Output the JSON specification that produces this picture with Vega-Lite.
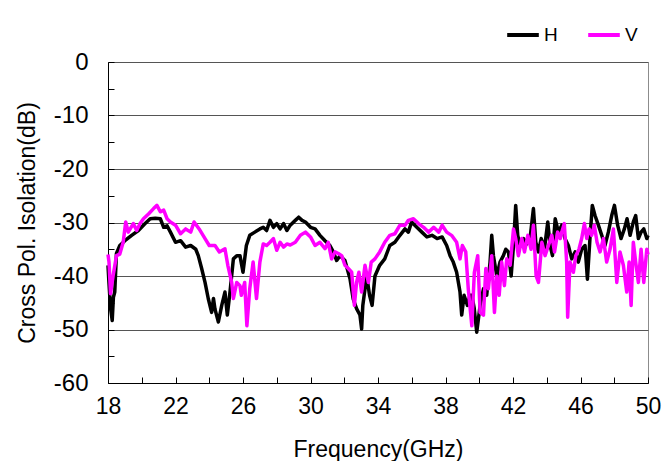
{
  "$schema": "https://vega.github.io/schema/vega-lite/v6.json",
  "width": 540,
  "height": 321,
  "autosize": "none",
  "padding": {"left": 108, "top": 62, "right": 14, "bottom": 78},
  "background": "white",
  "config": {
    "font": "Liberation Sans",
    "view": {"stroke": "#8c8c8c", "strokeWidth": 1},
    "axis": {"labelFont": "Liberation Sans", "titleFont": "Liberation Sans", "labelColor": "#000", "titleColor": "#000", "titleFontWeight": "normal"}
  },
  "datasets": {
    "curves": [
      {"f":18.0,"s":"H","db":-38},{"f":18.06,"s":"H","db":-41.4},{"f":18.15,"s":"H","db":-46},{"f":18.25,"s":"H","db":-48.3},{"f":18.32,"s":"H","db":-44},{"f":18.4,"s":"H","db":-43},{"f":18.5,"s":"H","db":-35.8},{"f":18.7,"s":"H","db":-34.3},{"f":19.0,"s":"H","db":-33.4},{"f":19.4,"s":"H","db":-32.4},{"f":19.8,"s":"H","db":-31.5},{"f":20.2,"s":"H","db":-30.2},{"f":20.5,"s":"H","db":-29.3},{"f":20.8,"s":"H","db":-29.2},{"f":21.1,"s":"H","db":-29.3},{"f":21.3,"s":"H","db":-30.9},{"f":21.5,"s":"H","db":-30.6},{"f":21.7,"s":"H","db":-31.8},{"f":22.0,"s":"H","db":-33.7},{"f":22.3,"s":"H","db":-33.4},{"f":22.6,"s":"H","db":-34.6},{"f":22.9,"s":"H","db":-34.3},{"f":23.2,"s":"H","db":-35},{"f":23.35,"s":"H","db":-36.2},{"f":23.55,"s":"H","db":-38.6},{"f":23.75,"s":"H","db":-41.2},{"f":23.94,"s":"H","db":-44.2},{"f":24.14,"s":"H","db":-46.8},{"f":24.25,"s":"H","db":-44.2},{"f":24.34,"s":"H","db":-46.2},{"f":24.54,"s":"H","db":-48.6},{"f":24.74,"s":"H","db":-45.5},{"f":24.93,"s":"H","db":-43},{"f":25.07,"s":"H","db":-47.3},{"f":25.23,"s":"H","db":-43},{"f":25.43,"s":"H","db":-36.8},{"f":25.63,"s":"H","db":-36.2},{"f":25.82,"s":"H","db":-36.2},{"f":26.0,"s":"H","db":-39.3},{"f":26.2,"s":"H","db":-34.3},{"f":26.4,"s":"H","db":-32.4},{"f":26.7,"s":"H","db":-31.8},{"f":27.0,"s":"H","db":-31.2},{"f":27.2,"s":"H","db":-30.9},{"f":27.4,"s":"H","db":-31.5},{"f":27.6,"s":"H","db":-29.6},{"f":27.8,"s":"H","db":-30.9},{"f":28.0,"s":"H","db":-30.2},{"f":28.2,"s":"H","db":-31.2},{"f":28.4,"s":"H","db":-30.2},{"f":28.6,"s":"H","db":-31.5},{"f":28.8,"s":"H","db":-30.5},{"f":29.1,"s":"H","db":-29.6},{"f":29.3,"s":"H","db":-29},{"f":29.5,"s":"H","db":-29.6},{"f":29.7,"s":"H","db":-29.9},{"f":30.0,"s":"H","db":-30.9},{"f":30.27,"s":"H","db":-31.2},{"f":30.56,"s":"H","db":-32.4},{"f":30.86,"s":"H","db":-33.4},{"f":31.15,"s":"H","db":-34.3},{"f":31.35,"s":"H","db":-35.5},{"f":31.55,"s":"H","db":-37.1},{"f":31.75,"s":"H","db":-36.2},{"f":32.04,"s":"H","db":-37.1},{"f":32.34,"s":"H","db":-40.5},{"f":32.53,"s":"H","db":-44.3},{"f":32.73,"s":"H","db":-46.1},{"f":32.93,"s":"H","db":-47.3},{"f":33.03,"s":"H","db":-49.9},{"f":33.1,"s":"H","db":-45.5},{"f":33.33,"s":"H","db":-40},{"f":33.5,"s":"H","db":-43.6},{"f":33.65,"s":"H","db":-45.5},{"f":33.82,"s":"H","db":-40},{"f":34.1,"s":"H","db":-38},{"f":34.4,"s":"H","db":-36.8},{"f":34.7,"s":"H","db":-34.3},{"f":35.0,"s":"H","db":-33.7},{"f":35.3,"s":"H","db":-32.4},{"f":35.6,"s":"H","db":-31.2},{"f":35.8,"s":"H","db":-31.8},{"f":35.99,"s":"H","db":-29.9},{"f":36.3,"s":"H","db":-30.9},{"f":36.6,"s":"H","db":-31.8},{"f":36.9,"s":"H","db":-32.7},{"f":37.2,"s":"H","db":-32.4},{"f":37.5,"s":"H","db":-33},{"f":37.8,"s":"H","db":-32.7},{"f":38.07,"s":"H","db":-34.3},{"f":38.27,"s":"H","db":-36.2},{"f":38.46,"s":"H","db":-37.4},{"f":38.66,"s":"H","db":-39.3},{"f":38.86,"s":"H","db":-43},{"f":38.96,"s":"H","db":-47.3},{"f":39.1,"s":"H","db":-43.6},{"f":39.3,"s":"H","db":-45.5},{"f":39.45,"s":"H","db":-43.6},{"f":39.56,"s":"H","db":-43.6},{"f":39.7,"s":"H","db":-46},{"f":39.85,"s":"H","db":-50.5},{"f":40.05,"s":"H","db":-45.5},{"f":40.25,"s":"H","db":-42.4},{"f":40.44,"s":"H","db":-43.6},{"f":40.64,"s":"H","db":-37.4},{"f":40.74,"s":"H","db":-32.4},{"f":40.84,"s":"H","db":-36.2},{"f":41.04,"s":"H","db":-40},{"f":41.23,"s":"H","db":-37.4},{"f":41.43,"s":"H","db":-36.2},{"f":41.57,"s":"H","db":-35},{"f":41.73,"s":"H","db":-35.5},{"f":41.89,"s":"H","db":-40},{"f":42.03,"s":"H","db":-34.3},{"f":42.16,"s":"H","db":-26.8},{"f":42.28,"s":"H","db":-32.4},{"f":42.42,"s":"H","db":-34.3},{"f":42.62,"s":"H","db":-33},{"f":42.82,"s":"H","db":-34},{"f":43.01,"s":"H","db":-33},{"f":43.21,"s":"H","db":-27.4},{"f":43.35,"s":"H","db":-33.7},{"f":43.51,"s":"H","db":-35.5},{"f":43.67,"s":"H","db":-33},{"f":43.86,"s":"H","db":-35},{"f":44.06,"s":"H","db":-29.9},{"f":44.2,"s":"H","db":-34.3},{"f":44.34,"s":"H","db":-36.2},{"f":44.5,"s":"H","db":-29.3},{"f":44.69,"s":"H","db":-31.8},{"f":44.89,"s":"H","db":-30.5},{"f":45.08,"s":"H","db":-33},{"f":45.28,"s":"H","db":-34.3},{"f":45.48,"s":"H","db":-36.8},{"f":45.68,"s":"H","db":-35.5},{"f":45.87,"s":"H","db":-37.4},{"f":46.07,"s":"H","db":-35},{"f":46.27,"s":"H","db":-34.3},{"f":46.41,"s":"H","db":-40.6},{"f":46.56,"s":"H","db":-33},{"f":46.7,"s":"H","db":-26.8},{"f":46.86,"s":"H","db":-28.7},{"f":47.06,"s":"H","db":-30.5},{"f":47.26,"s":"H","db":-32.4},{"f":47.45,"s":"H","db":-34.3},{"f":47.65,"s":"H","db":-31.8},{"f":47.85,"s":"H","db":-28.7},{"f":48.01,"s":"H","db":-26.8},{"f":48.2,"s":"H","db":-30.5},{"f":48.4,"s":"H","db":-33},{"f":48.6,"s":"H","db":-31.2},{"f":48.76,"s":"H","db":-29.3},{"f":48.94,"s":"H","db":-32.4},{"f":49.13,"s":"H","db":-29.9},{"f":49.27,"s":"H","db":-28.7},{"f":49.43,"s":"H","db":-33},{"f":49.59,"s":"H","db":-31.8},{"f":49.75,"s":"H","db":-31.2},{"f":49.93,"s":"H","db":-33},{"f":50.0,"s":"H","db":-32.4},
      {"f":18.0,"s":"V","db":-36},{"f":18.06,"s":"V","db":-37.4},{"f":18.15,"s":"V","db":-43.3},{"f":18.3,"s":"V","db":-40},{"f":18.5,"s":"V","db":-36.2},{"f":18.7,"s":"V","db":-35.9},{"f":18.9,"s":"V","db":-33.7},{"f":19.05,"s":"V","db":-29.9},{"f":19.2,"s":"V","db":-31.8},{"f":19.5,"s":"V","db":-30.2},{"f":19.7,"s":"V","db":-31.5},{"f":19.9,"s":"V","db":-30.2},{"f":20.1,"s":"V","db":-29.3},{"f":20.4,"s":"V","db":-28.4},{"f":20.7,"s":"V","db":-27.4},{"f":20.9,"s":"V","db":-26.8},{"f":21.1,"s":"V","db":-28},{"f":21.3,"s":"V","db":-27.7},{"f":21.5,"s":"V","db":-29.3},{"f":21.7,"s":"V","db":-29.9},{"f":22.0,"s":"V","db":-30.5},{"f":22.3,"s":"V","db":-32.1},{"f":22.6,"s":"V","db":-31.2},{"f":22.9,"s":"V","db":-31.8},{"f":23.1,"s":"V","db":-29.9},{"f":23.4,"s":"V","db":-31.2},{"f":23.75,"s":"V","db":-33},{"f":24.0,"s":"V","db":-34.3},{"f":24.34,"s":"V","db":-34.3},{"f":24.6,"s":"V","db":-35.5},{"f":24.93,"s":"V","db":-34.9},{"f":25.1,"s":"V","db":-38},{"f":25.33,"s":"V","db":-41.2},{"f":25.43,"s":"V","db":-44.2},{"f":25.63,"s":"V","db":-41.2},{"f":25.82,"s":"V","db":-41.8},{"f":25.9,"s":"V","db":-43.6},{"f":26.1,"s":"V","db":-41.2},{"f":26.23,"s":"V","db":-49.3},{"f":26.4,"s":"V","db":-42.4},{"f":26.6,"s":"V","db":-37.4},{"f":26.8,"s":"V","db":-44.2},{"f":27.0,"s":"V","db":-37.4},{"f":27.2,"s":"V","db":-34},{"f":27.4,"s":"V","db":-34.3},{"f":27.6,"s":"V","db":-33.7},{"f":27.8,"s":"V","db":-33},{"f":28.0,"s":"V","db":-35.2},{"f":28.2,"s":"V","db":-33.7},{"f":28.4,"s":"V","db":-34.6},{"f":28.6,"s":"V","db":-34},{"f":28.8,"s":"V","db":-34.2},{"f":29.1,"s":"V","db":-33.7},{"f":29.4,"s":"V","db":-32.4},{"f":29.7,"s":"V","db":-31.8},{"f":30.0,"s":"V","db":-32.7},{"f":30.27,"s":"V","db":-34.3},{"f":30.56,"s":"V","db":-33.7},{"f":30.86,"s":"V","db":-34.9},{"f":31.05,"s":"V","db":-33.7},{"f":31.25,"s":"V","db":-36.8},{"f":31.45,"s":"V","db":-35.5},{"f":31.65,"s":"V","db":-35.8},{"f":31.85,"s":"V","db":-36.2},{"f":32.04,"s":"V","db":-38},{"f":32.24,"s":"V","db":-38.6},{"f":32.44,"s":"V","db":-39.3},{"f":32.6,"s":"V","db":-45.5},{"f":32.73,"s":"V","db":-41.2},{"f":32.87,"s":"V","db":-39.3},{"f":33.03,"s":"V","db":-43},{"f":33.23,"s":"V","db":-38},{"f":33.43,"s":"V","db":-41.2},{"f":33.6,"s":"V","db":-37.4},{"f":33.82,"s":"V","db":-36.8},{"f":34.1,"s":"V","db":-35.5},{"f":34.4,"s":"V","db":-33.7},{"f":34.7,"s":"V","db":-32.4},{"f":35.0,"s":"V","db":-32.1},{"f":35.3,"s":"V","db":-30.5},{"f":35.6,"s":"V","db":-30.5},{"f":35.8,"s":"V","db":-29.6},{"f":36.1,"s":"V","db":-29.3},{"f":36.4,"s":"V","db":-30.2},{"f":36.7,"s":"V","db":-30.9},{"f":37.0,"s":"V","db":-31.8},{"f":37.3,"s":"V","db":-30.9},{"f":37.6,"s":"V","db":-31.8},{"f":37.8,"s":"V","db":-30.5},{"f":38.07,"s":"V","db":-31.8},{"f":38.36,"s":"V","db":-32.4},{"f":38.66,"s":"V","db":-33.7},{"f":38.86,"s":"V","db":-36.8},{"f":39.0,"s":"V","db":-34.3},{"f":39.2,"s":"V","db":-35.5},{"f":39.35,"s":"V","db":-42.4},{"f":39.56,"s":"V","db":-49.3},{"f":39.71,"s":"V","db":-39.3},{"f":39.91,"s":"V","db":-36.2},{"f":40.05,"s":"V","db":-46.8},{"f":40.25,"s":"V","db":-47.3},{"f":40.39,"s":"V","db":-38.6},{"f":40.54,"s":"V","db":-42.4},{"f":40.74,"s":"V","db":-36.2},{"f":40.9,"s":"V","db":-46.8},{"f":41.04,"s":"V","db":-40},{"f":41.18,"s":"V","db":-43.6},{"f":41.33,"s":"V","db":-37.4},{"f":41.49,"s":"V","db":-41.8},{"f":41.63,"s":"V","db":-36.8},{"f":41.83,"s":"V","db":-38},{"f":42.03,"s":"V","db":-31.2},{"f":42.16,"s":"V","db":-33},{"f":42.32,"s":"V","db":-36.2},{"f":42.52,"s":"V","db":-33},{"f":42.68,"s":"V","db":-35.5},{"f":42.88,"s":"V","db":-32.4},{"f":43.07,"s":"V","db":-35},{"f":43.21,"s":"V","db":-30.5},{"f":43.37,"s":"V","db":-40},{"f":43.51,"s":"V","db":-41.2},{"f":43.71,"s":"V","db":-33.7},{"f":43.9,"s":"V","db":-36.2},{"f":44.1,"s":"V","db":-34.3},{"f":44.3,"s":"V","db":-32.4},{"f":44.46,"s":"V","db":-35.5},{"f":44.65,"s":"V","db":-31.8},{"f":44.8,"s":"V","db":-33},{"f":44.89,"s":"V","db":-31.8},{"f":45.04,"s":"V","db":-30.2},{"f":45.18,"s":"V","db":-37.4},{"f":45.24,"s":"V","db":-47.7},{"f":45.38,"s":"V","db":-37.4},{"f":45.58,"s":"V","db":-39.3},{"f":45.72,"s":"V","db":-36.2},{"f":45.91,"s":"V","db":-35},{"f":46.07,"s":"V","db":-33},{"f":46.23,"s":"V","db":-30.2},{"f":46.37,"s":"V","db":-33},{"f":46.51,"s":"V","db":-31.2},{"f":46.66,"s":"V","db":-32.4},{"f":46.82,"s":"V","db":-30.5},{"f":46.98,"s":"V","db":-33.7},{"f":47.16,"s":"V","db":-35.5},{"f":47.36,"s":"V","db":-33},{"f":47.55,"s":"V","db":-37.4},{"f":47.75,"s":"V","db":-35},{"f":47.95,"s":"V","db":-31.2},{"f":48.15,"s":"V","db":-41.2},{"f":48.34,"s":"V","db":-35.5},{"f":48.54,"s":"V","db":-38},{"f":48.74,"s":"V","db":-43},{"f":48.88,"s":"V","db":-37.4},{"f":49.0,"s":"V","db":-45.5},{"f":49.13,"s":"V","db":-33.7},{"f":49.27,"s":"V","db":-37.4},{"f":49.43,"s":"V","db":-41.2},{"f":49.59,"s":"V","db":-35},{"f":49.75,"s":"V","db":-41.2},{"f":49.93,"s":"V","db":-35},{"f":50.0,"s":"V","db":-36}
    ]
  },
  "data": {"name": "curves"},
  "mark": {"type": "line", "strokeWidth": 3.5, "interpolate": "linear", "strokeJoin": "round"},
  "encoding": {
    "x": {
      "field": "f", "type": "quantitative",
      "scale": {"domain": [18, 50], "nice": false, "zero": false},
      "axis": {"values": [18,20,22,24,26,28,30,32,34,36,38,40,42,44,46,48,50], "labelExpr": "(datum.value - 18) % 4 == 0 ? '' + datum.value : ''", "title": "Frequency(GHz)", "grid": false, "tickSize": -6, "tickColor": "#000", "domainColor": "#000", "labelFontSize": 23, "titleFontSize": 23, "labelPadding": 18, "titlePadding": 20, "labelFlush": false}
    },
    "y": {
      "field": "db", "type": "quantitative",
      "scale": {"domain": [-60, 0], "nice": false, "zero": false},
      "axis": {"values": [-60,-55,-50,-45,-40,-35,-30,-25,-20,-15,-10,-5,0], "labelExpr": "datum.value % 10 == 0 ? '' + datum.value : ''", "title": "Cross Pol. Isolation(dB)", "grid": true, "gridColor": "#555", "gridWidth": 1, "gridOpacity": {"condition": {"test": "datum.value % 10 == 0", "value": 1}, "value": 0}, "tickSize": -6, "tickColor": "#000", "domainColor": "#000", "labelFontSize": 24, "titleFontSize": 23, "labelPadding": 26, "titlePadding": 14, "labelFlush": false}
    },
    "color": {
      "field": "s", "type": "nominal",
      "scale": {"domain": ["H", "V"], "range": ["#000000", "#ff00ff"]},
      "legend": {"title": null, "orient": "none", "legendX": 397, "legendY": -45, "direction": "horizontal", "symbolType": "stroke", "symbolSize": 1000, "symbolStrokeWidth": 4, "labelFontSize": 19, "labelFont": "Liberation Sans", "labelColor": "#000", "columnPadding": 22, "labelOffset": 3}
    },
    "order": {"field": "s"}
  }
}
